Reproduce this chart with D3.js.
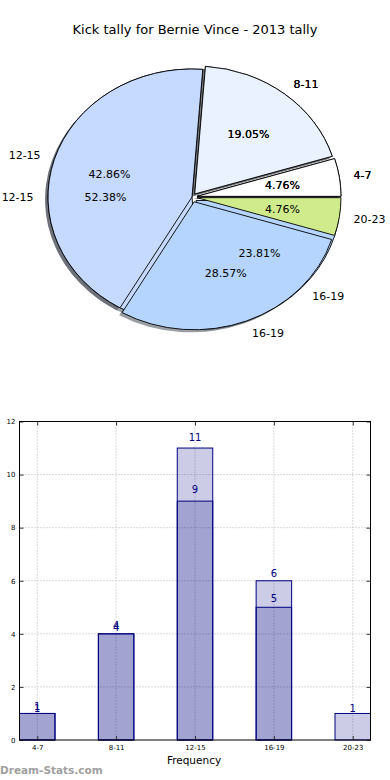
<!DOCTYPE html>
<html>
<head>
<meta charset="utf-8">
<script src="https://cdn.jsdelivr.net/npm/d3@7"></script>
<style>
  body { margin: 0; background: #fff; }
  svg { display: block; font-family: "DejaVu Sans", sans-serif; }
</style>
</head>
<body>
<svg id="chart" width="390" height="780"></svg>
<script>
const categories = ["4-7", "8-11", "12-15", "16-19", "20-23"];
// two tallies drawn over each other, as on the site
const pieTop = [1, 4, 9, 6, 1];
const pieUnder = [1, 4, 11, 5, 0];
const explode = [0.035, 0.03, 0, 0.04, 0.035];
const pieColors = ["#ffffff", "#eaf2ff", "#c6d9ff", "#b5d5ff", "#d0eb8b"];
const barLight = [1, 4, 11, 6, 1];
const barDark = [1, 4, 9, 5, 0];
const yTicks = [0, 2, 4, 6, 8, 10, 12];

const svg = d3.select("#chart");

svg.append("text")
  .attr("x", 195).attr("y", 34)
  .attr("text-anchor", "middle")
  .style("font-size", "13px")
  .text("Kick tally for Bernie Vince - 2013 tally");

// ---- pie ----
const cx = 192, cy = 197, rx = 144, ry = 128;
const pie = d3.pie().sort(null).value(d => d.v)
  .startAngle(Math.PI / 2).endAngle(Math.PI / 2 - 2 * Math.PI);
const arc = d3.arc().innerRadius(0).outerRadius(rx);

const makeSlices = (vals) => {
  const items = vals.map((v, i) => ({v: v, i: i})).filter(d => d.v > 0);
  const total = d3.sum(items, d => d.v);
  return pie(items).map(s => {
    const m = (s.startAngle + s.endAngle) / 2;
    const e = explode[s.data.i];
    return Object.assign(s, {
      total: total,
      dx: Math.sin(m), dy: -Math.cos(m),
      ox: e * rx * Math.sin(m), oy: -e * ry * Math.cos(m)
    });
  });
};

const underSlices = makeSlices(pieUnder);
const topSlices = makeSlices(pieTop);
const pieG = svg.append("g");

const shade = (c) => {
  const k = d3.rgb(c);
  return d3.rgb(k.r * 0.3, k.g * 0.3, k.b * 0.3);
};

// shadows first, then the two pies
[underSlices, topSlices].forEach(sl => {
  pieG.append("g").selectAll("path").data(sl).enter().append("path")
    .attr("d", arc)
    .attr("transform", d => `translate(${cx + d.ox - 2.9},${cy + d.oy + 2.6}) scale(1,${ry / rx})`)
    .attr("fill", d => shade(pieColors[d.data.i]))
    .attr("fill-opacity", 0.5);
});

[underSlices, topSlices].forEach(sl => {
  pieG.append("g").selectAll("path").data(sl).enter().append("path")
    .attr("d", arc)
    .attr("transform", d => `translate(${cx + d.ox},${cy + d.oy}) scale(1,${ry / rx})`)
    .attr("fill", d => pieColors[d.data.i])
    .attr("stroke", "#000")
    .attr("stroke-width", 0.9)
    .attr("vector-effect", "non-scaling-stroke");
});

[underSlices, topSlices].forEach(sl => {
  const g = pieG.append("g").style("font-size", "11px");
  g.selectAll(".lab").data(sl).enter().append("text")
    .attr("x", d => cx + d.ox + 1.1 * rx * d.dx)
    .attr("y", d => cy + d.oy + 1.1 * ry * d.dy)
    .attr("dy", "0.35em")
    .attr("text-anchor", d => d.dx > 0 ? "start" : "end")
    .text(d => categories[d.data.i]);
  g.selectAll(".pct").data(sl).enter().append("text")
    .attr("x", d => cx + d.ox + 0.6 * rx * d.dx)
    .attr("y", d => cy + d.oy + 0.6 * ry * d.dy)
    .attr("dy", "0.35em")
    .attr("text-anchor", "middle")
    .text(d => (100 * d.data.v / d.total).toFixed(2) + "%");
});

// ---- bars ----
const x = d3.scaleLinear().domain([-0.225, 4.225]).range([19.5, 370.5]);
const y = d3.scaleLinear().domain([0, 12]).range([740, 421.5]);
const bw = x(0.45) - x(0);
const barG = svg.append("g");

// grid
barG.selectAll(".vg").data(categories).enter().append("line")
  .attr("x1", (d, i) => x(i)).attr("x2", (d, i) => x(i))
  .attr("y1", y(12)).attr("y2", y(0))
  .attr("stroke", "#b4b4b4").attr("stroke-dasharray", "1,2");
barG.selectAll(".hg").data(yTicks.slice(1, -1)).enter().append("line")
  .attr("x1", x.range()[0]).attr("x2", x.range()[1])
  .attr("y1", d => y(d)).attr("y2", d => y(d))
  .attr("stroke", "#b4b4b4").attr("stroke-dasharray", "1,2");

[barLight, barDark].forEach((vals, k) => {
  const data = vals.map((v, i) => ({v: v, i: i})).filter(d => d.v > 0);
  barG.append("g").selectAll("rect").data(data).enter().append("rect")
    .attr("x", d => x(d.i) - bw / 2)
    .attr("width", bw)
    .attr("y", d => y(d.v))
    .attr("height", d => y(0) - y(d.v))
    .attr("fill", "navy").attr("fill-opacity", 0.2)
    .attr("stroke", "navy").attr("stroke-width", 1);
  barG.append("g").selectAll("text").data(data).enter().append("text")
    .attr("x", d => x(d.i))
    .attr("y", d => y(d.v * 1.02) - 1 - k * 2)
    .attr("text-anchor", "middle")
    .attr("fill", "navy")
    .style("font-size", "10px")
    .text(d => d.v);
});

// axes with inward ticks
const tickStyle = (g) => {
  g.select(".domain").remove();
  g.selectAll(".tick line").attr("stroke", "#333");
  g.selectAll(".tick text").style("font-family", "DejaVu Sans").style("font-size", "7px").attr("fill", "#000");
};
const catTicks = d3.range(categories.length);
svg.append("g").attr("transform", `translate(${x.range()[0]},0)`)
  .call(d3.axisLeft(y).tickValues(yTicks).tickSize(-4).tickPadding(4)).call(tickStyle);
svg.append("g").attr("transform", `translate(${x.range()[1]},0)`)
  .call(d3.axisRight(y).tickValues(yTicks).tickSize(-4).tickFormat("")).call(tickStyle);
svg.append("g").attr("transform", `translate(0,${y(0)})`)
  .call(d3.axisBottom(x).tickValues(catTicks).tickSize(-4).tickPadding(5).tickFormat(i => categories[i])).call(tickStyle);
svg.append("g").attr("transform", `translate(0,${y(12)})`)
  .call(d3.axisTop(x).tickValues(catTicks).tickSize(-4).tickFormat("")).call(tickStyle);

svg.append("rect")
  .attr("x", x.range()[0]).attr("y", y(12))
  .attr("width", x.range()[1] - x.range()[0]).attr("height", y(0) - y(12))
  .attr("fill", "none").attr("stroke", "#000").attr("stroke-width", 1);

svg.append("text")
  .attr("x", 194).attr("y", 764)
  .attr("text-anchor", "middle")
  .style("font-size", "10.5px")
  .text("Frequency");

svg.append("text")
  .attr("x", 0).attr("y", 774)
  .attr("fill", "#a0a0a0")
  .style("font-size", "10.5px").style("font-weight", "bold")
  .text("Dream-Stats.com");
</script>
</body>
</html>
